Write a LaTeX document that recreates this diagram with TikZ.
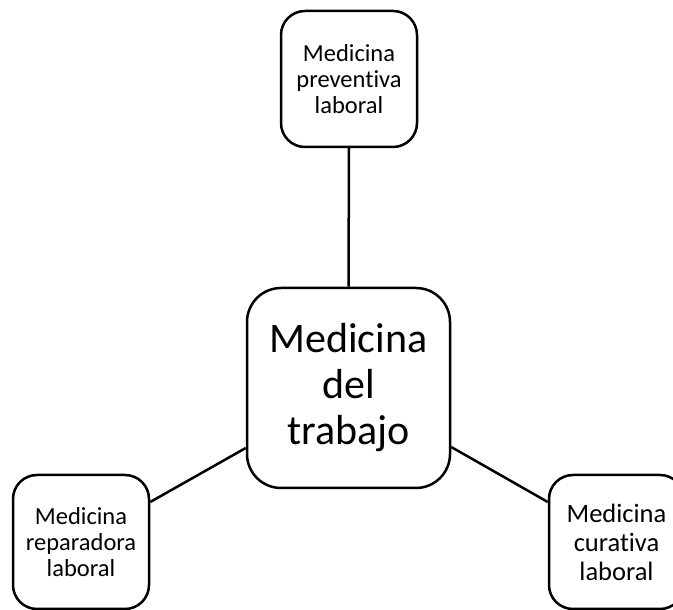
\documentclass[tikz,border=0pt]{standalone}
\usepackage{fontspec}
\setmainfont{Carlito}[Ligatures=NoCommon]
\usetikzlibrary{positioning}

\begin{document}
\begin{tikzpicture}[x=1pt,y=1pt,
  smallbox/.style={draw,line width=2.5pt,rounded corners=24pt,align=center,
    minimum width=136pt,minimum height=136pt,inner sep=0pt,
    font=\fontsize{24.5}{26}\selectfont},
  bigbox/.style={draw,line width=2.5pt,rounded corners=34pt,align=center,
    minimum width=203pt,minimum height=200pt,inner sep=0pt,
    font=\fontsize{42}{46}\selectfont},
  link/.style={line width=2.5pt}]
%
\useasboundingbox (0,0) rectangle (673,610);
%
\node[bigbox] (trabajo) at (348.5,222) {Medicina\\del\\trabajo};
\node[smallbox] (preventiva) at (349,531) {Medicina\\preventiva\\laboral};
\node[smallbox,minimum height=134pt] (reparadora) at (81,68) {Medicina\\reparadora\\laboral};
\node[smallbox,minimum height=134pt,minimum width=135pt,
  font=\fontsize{26.5}{29}\selectfont] (curativa) at (616.5,68) {Medicina\\curativa\\laboral};
%
\draw[link] (preventiva.south) -- (trabajo.north);
\draw[link] ([yshift=40pt]reparadora.east) -- ([yshift=-60pt]trabajo.west);
\draw[link] ([yshift=-59pt]trabajo.east) -- ([yshift=40pt]curativa.west);
\end{tikzpicture}
\end{document}
